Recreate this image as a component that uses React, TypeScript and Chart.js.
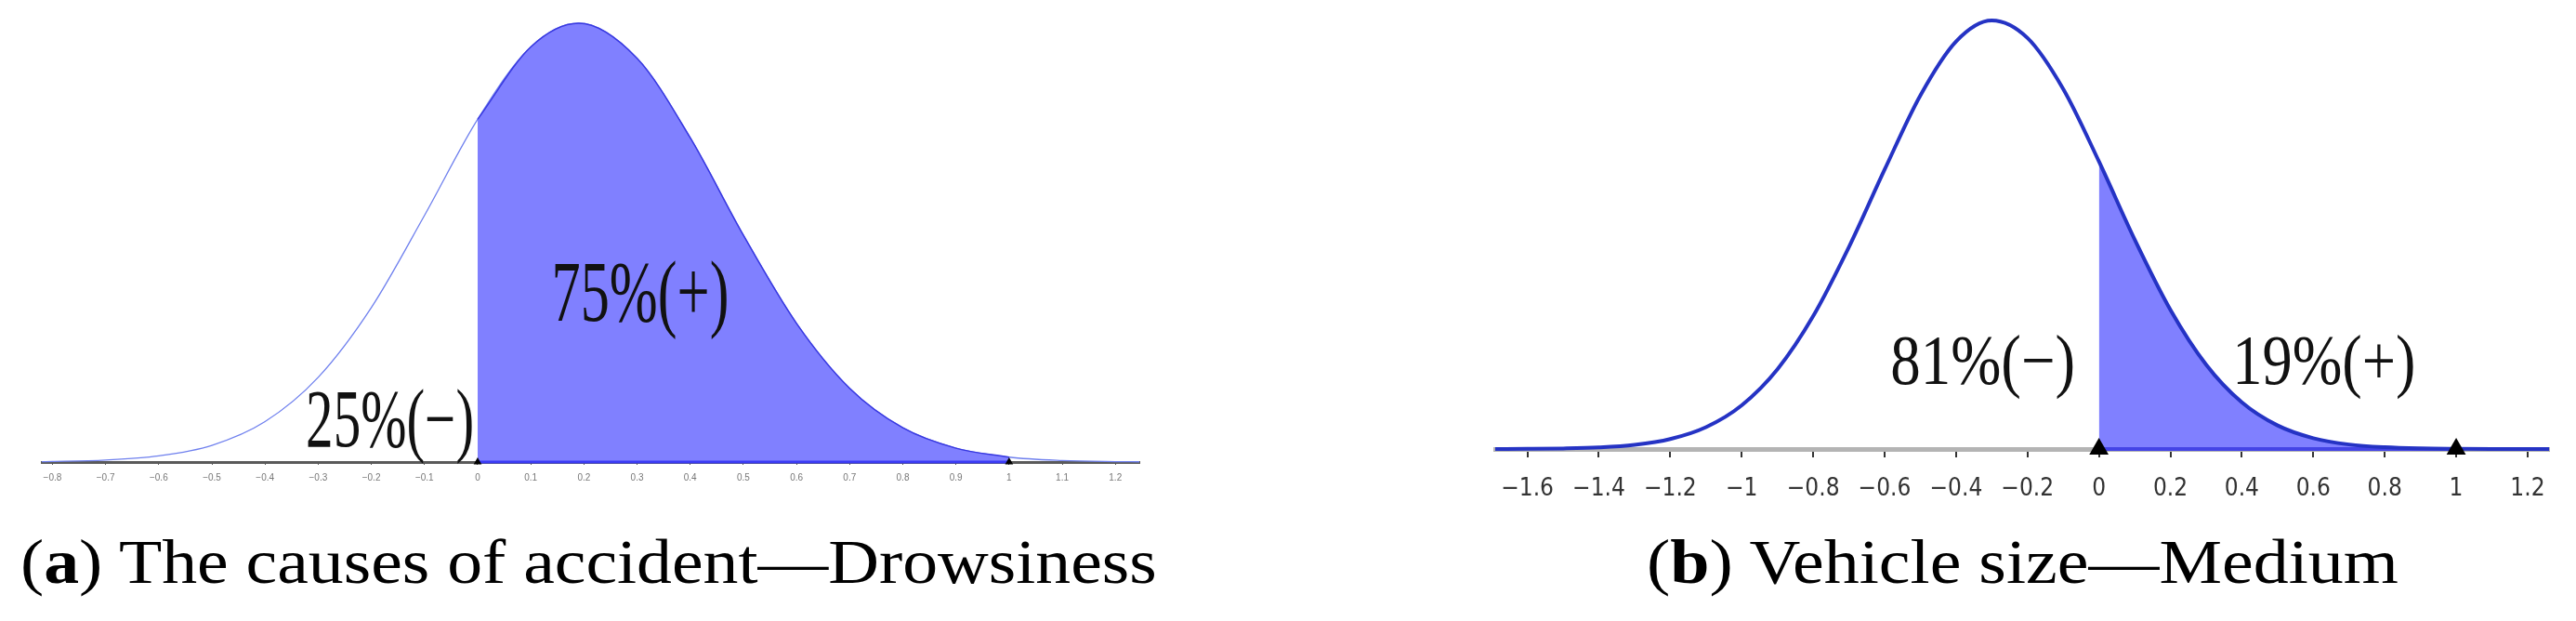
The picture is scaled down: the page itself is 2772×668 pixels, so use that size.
import React, { useEffect, useLayoutEffect, useRef } from 'react';
import { Chart, registerables } from 'chart.js';
Chart.register(...registerables);

// ---- Panel (a): The causes of accident — Drowsiness ----
const leftCurveX = [-0.82, -0.8, -0.7, -0.6, -0.5, -0.4, -0.3, -0.2, -0.1, 0, 0.1, 0.19, 0.3, 0.4, 0.5, 0.6, 0.7, 0.8, 0.9, 1.0, 1.1, 1.2, 1.245];
const leftCurveY = [0.0009, 0.0012, 0.0044, 0.014, 0.038, 0.092, 0.193, 0.352, 0.562, 0.781, 0.946, 1.0, 0.92, 0.739, 0.517, 0.316, 0.168, 0.078, 0.0315, 0.0111, 0.0034, 0.0009, 0.0005];
const leftTicks = [-0.8, -0.7, -0.6, -0.5, -0.4, -0.3, -0.2, -0.1, 0, 0.1, 0.2, 0.3, 0.4, 0.5, 0.6, 0.7, 0.8, 0.9, 1, 1.1, 1.2];
const leftMarks = [0, 1];
const leftShade = [0, 1];
const leftTexts = ['25%(\u2212)', '75%(+)'];

// ---- Panel (b): Vehicle size — Medium ----
const rightCurveX = [-1.69, -1.6, -1.5, -1.4, -1.3, -1.2, -1.1, -1.0, -0.9, -0.8, -0.7, -0.6, -0.5, -0.4, -0.3, -0.2, -0.1, 0, 0.1, 0.2, 0.3, 0.4, 0.5, 0.6, 0.7, 0.8, 0.9, 1.0, 1.1, 1.26];
const rightCurveY = [0.0001, 0.0004, 0.0013, 0.0037, 0.0097, 0.0233, 0.051, 0.102, 0.186, 0.31, 0.471, 0.652, 0.825, 0.951, 1.0, 0.959, 0.84, 0.671, 0.489, 0.325, 0.197, 0.109, 0.055, 0.0253, 0.0106, 0.0041, 0.0014, 0.0005, 0.0001, 0];
const rightTicks = [-1.6, -1.4, -1.2, -1, -0.8, -0.6, -0.4, -0.2, 0, 0.2, 0.4, 0.6, 0.8, 1, 1.2];
const rightMarks = [0, 1];
const rightShade = [0, 1];
const rightTexts = ['81%(\u2212)', '19%(+)'];

const captionA = ['(', 'a', ') The causes of accident\u2014Drowsiness'];
const captionB = ['(', 'b', ') Vehicle size\u2014Medium'];

const fmt = (v: number) => {
  const r = Math.round(v * 10) / 10;
  const s = String(Math.abs(r));
  return r < 0 ? '\u2212' + s : s;
};

const textPlugin = {
  id: 'areaText',
  afterDatasetsDraw(chart: any, _args: any, opts: any) {
    const { ctx } = chart;
    const x = chart.scales.x;
    const y = chart.scales.y;
    (opts.items || []).forEach((it: any) => {
      const px = x.getPixelForValue(it.x);
      const py = y.getPixelForValue(it.y);
      ctx.save();
      ctx.font = `${it.size}px "Liberation Serif"`;
      const w = ctx.measureText(it.text).width;
      const sx = it.width / w;
      ctx.translate(px, py + it.size * 0.33);
      ctx.scale(sx, 1);
      ctx.textAlign = 'center';
      ctx.textBaseline = 'alphabetic';
      ctx.fillStyle = '#111';
      ctx.fillText(it.text, 0, 0);
      ctx.restore();
    });
  },
};

function pts(xs: number[], ys: number[]) {
  return xs.map((v, i) => ({ x: v, y: ys[i] }));
}

function LeftChart() {
  const ref = useRef<HTMLCanvasElement>(null);
  useEffect(() => {
    const curve = pts(leftCurveX, leftCurveY);
    const shade = curve.filter((p) => p.x >= leftShade[0] && p.x <= leftShade[1]);
    const chart = new Chart(ref.current as HTMLCanvasElement, {
      type: 'line',
      data: {
        datasets: [
          {
            data: leftMarks.map((v) => ({ x: v, y: 0 })),
            showLine: false,
            pointStyle: 'triangle',
            pointRadius: 5,
            backgroundColor: '#000',
            borderColor: '#000',
            borderWidth: 0,
            clip: false,
          } as any,
          {
            data: leftShade.map((v) => ({ x: v, y: 0 })),
            borderColor: '#3b3bf5',
            borderWidth: 3,
            pointRadius: 0,
            clip: false,
          },
          {
            data: shade,
            fill: 'origin',
            backgroundColor: '#8080ff',
            borderColor: '#3838e0',
            borderWidth: 1.5,
            pointRadius: 0,
            cubicInterpolationMode: 'monotone',
            clip: false,
          },
          {
            data: curve,
            borderColor: '#6f80ee',
            borderWidth: 1.3,
            pointRadius: 0,
            cubicInterpolationMode: 'monotone',
            clip: false,
          },
        ],
      },
      options: {
        animation: false,
        responsive: false,
        events: [],
        layout: { padding: { left: 45, right: 74, top: 25, bottom: 0 } },
        plugins: {
          legend: { display: false },
          tooltip: { enabled: false },
          areaText: {
            items: [
              { text: leftTexts[0], x: -0.165, y: 0.097, size: 88, width: 181 },
              { text: leftTexts[1], x: 0.306, y: 0.388, size: 94, width: 191 },
            ],
          },
        } as any,
        scales: {
          x: {
            type: 'linear',
            min: -0.82,
            max: 1.245,
            afterBuildTicks: (s: any) => {
              s.ticks = leftTicks.map((v) => ({ value: v }));
            },
            afterFit: (s: any) => {
              s.height = 33;
            },
            ticks: {
              autoSkip: false,
              maxRotation: 0,
              padding: 8,
              color: '#777',
              font: { size: 10, family: '"Liberation Sans Narrow", "Liberation Sans"' },
              callback: (v: any) => fmt(Number(v)),
            },
            grid: { drawOnChartArea: false, drawTicks: true, tickLength: 3, color: '#555', lineWidth: 1 },
            border: { color: '#5a5a5a', width: 3 },
          },
          y: { type: 'linear', min: 0, max: 1, display: false },
        },
      },
      plugins: [textPlugin],
    });
    return () => chart.destroy();
  }, []);
  return <canvas ref={ref} width={1300} height={530} style={{ position: 'absolute', left: 0, top: 0 }} />;
}

function RightChart() {
  const ref = useRef<HTMLCanvasElement>(null);
  useEffect(() => {
    const curve = pts(rightCurveX, rightCurveY);
    const shade = curve.filter((p) => p.x >= rightShade[0] && p.x <= rightShade[1]);
    const chart = new Chart(ref.current as HTMLCanvasElement, {
      type: 'line',
      data: {
        datasets: [
          {
            data: rightMarks.map((v) => ({ x: v, y: 0 })),
            showLine: false,
            pointStyle: 'triangle',
            pointRadius: 12,
            backgroundColor: '#000',
            borderColor: '#000',
            borderWidth: 0,
            clip: false,
          } as any,
          {
            data: curve,
            borderColor: '#2533c4',
            borderWidth: 4,
            pointRadius: 0,
            cubicInterpolationMode: 'monotone',
            clip: false,
          },
          {
            data: rightShade.map((v) => ({ x: v, y: 0 })),
            borderColor: '#4444e6',
            borderWidth: 4,
            pointRadius: 0,
            clip: false,
          },
          {
            data: shade,
            fill: 'origin',
            backgroundColor: '#8080ff',
            borderColor: '#5050f0',
            borderWidth: 1,
            pointRadius: 0,
            cubicInterpolationMode: 'monotone',
            clip: false,
          },
        ],
      },
      options: {
        animation: false,
        responsive: false,
        events: [],
        layout: { padding: { left: 49, right: 29, top: 22, bottom: 0 } },
        plugins: {
          legend: { display: false },
          tooltip: { enabled: false },
          areaText: {
            items: [
              { text: rightTexts[0], x: -0.325, y: 0.206, size: 76, width: 199 },
              { text: rightTexts[1], x: 0.63, y: 0.206, size: 76, width: 197 },
            ],
          },
        } as any,
        scales: {
          x: {
            type: 'linear',
            min: -1.69,
            max: 1.26,
            afterBuildTicks: (s: any) => {
              s.ticks = rightTicks.map((v) => ({ value: v }));
            },
            afterFit: (s: any) => {
              s.height = 62;
            },
            ticks: {
              autoSkip: false,
              maxRotation: 0,
              padding: 19,
              color: '#333',
              font: { size: 26, family: '"Liberation Sans Narrow", "DejaVu Sans Condensed", "Liberation Sans"' },
              callback: (v: any) => fmt(Number(v)),
            },
            grid: { drawOnChartArea: false, drawTicks: true, tickLength: 9, color: '#333', lineWidth: 2 },
            border: { color: '#b4b4b4', width: 5 },
          },
          y: { type: 'linear', min: 0, max: 1, display: false },
        },
      },
      plugins: [textPlugin],
    });
    return () => chart.destroy();
  }, []);
  return <canvas ref={ref} width={1212} height={545} style={{ position: 'absolute', left: 1560, top: 0 }} />;
}

function Caption({ left, top, width, parts }: { left: number; top: number; width: number; parts: string[] }) {
  const ref = useRef<HTMLDivElement>(null);
  useLayoutEffect(() => {
    const el = ref.current;
    if (!el) return;
    const w = el.offsetWidth;
    el.style.transform = `scaleX(${width / w})`;
  }, [width]);
  return (
    <div
      ref={ref}
      style={{
        position: 'absolute',
        left,
        top,
        whiteSpace: 'nowrap',
        fontFamily: '"Liberation Serif", serif',
        fontSize: 68,
        lineHeight: '68px',
        transformOrigin: '0 0',
        color: '#000',
      }}
    >
      {parts[0]}
      <b>{parts[1]}</b>
      {parts[2]}
    </div>
  );
}

export default function App() {
  return (
    <div style={{ position: 'absolute', left: 0, top: 0, width: 2772, height: 668, background: '#fff', overflow: 'hidden' }}>
      <LeftChart />
      <RightChart />
      <Caption left={22} top={570} width={1223} parts={captionA} />
      <Caption left={1772} top={570} width={809} parts={captionB} />
    </div>
  );
}
